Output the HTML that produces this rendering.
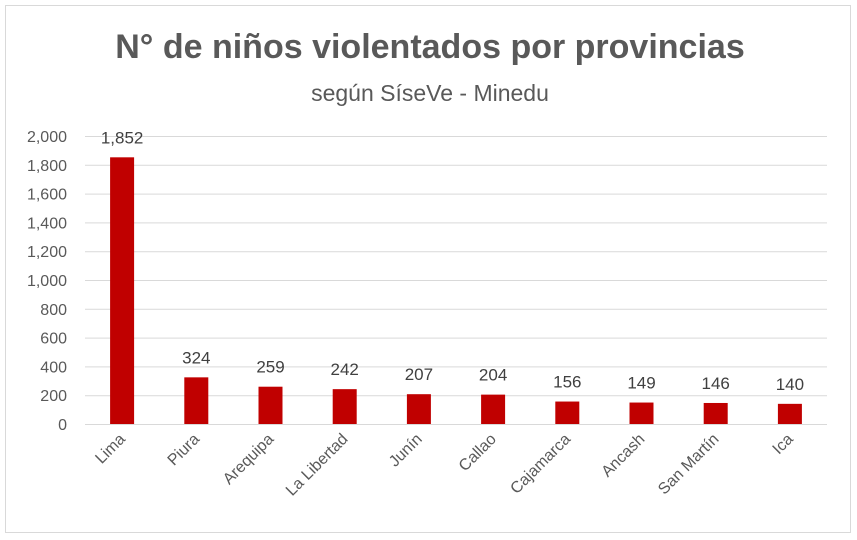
<!DOCTYPE html>
<html><head><meta charset="utf-8"><style>
body{margin:0;background:#fff;}
svg{display:block;font-family:"Liberation Sans",Calibri,sans-serif;}
</style></head><body>
<svg id="chart" width="857" height="540">
<rect x="5.5" y="5.5" width="845" height="527" fill="#fff" stroke="#d9d9d9"/>
<text x="430" y="58" text-anchor="middle" font-size="34" font-weight="bold" fill="#595959">N° de niños violentados por provincias</text>
<text x="430" y="101" text-anchor="middle" font-size="23" fill="#595959">según SíseVe - Minedu</text>
<g id="grid"></g><g id="bars"></g><g id="labels"></g>
</svg>
<script>
const categories=["Lima","Piura","Arequipa","La Libertad","Junín","Callao","Cajamarca","Ancash","San Martín","Ica"];
const values=[1852,324,259,242,207,204,156,149,146,140];
const valueLabels=["1,852","324","259","242","207","204","156","149","146","140"];
const ticks=[0,200,400,600,800,1000,1200,1400,1600,1800,2000];
const tickLabels=["0","200","400","600","800","1,000","1,200","1,400","1,600","1,800","2,000"];
const NS="http://www.w3.org/2000/svg";
const x0=85,x1=827,y0=424,y1=136,maxV=2000;
const band=(x1-x0)/categories.length,bw=24;
const y=v=>y0-(v/maxV)*(y0-y1);
const xc=i=>x0+band*(i+0.5);
function mk(t,a,p){const e=document.createElementNS(NS,t);for(const k in a)e.setAttribute(k,a[k]);p.appendChild(e);return e;}
const g=document.getElementById('grid'),b=document.getElementById('bars'),l=document.getElementById('labels');
ticks.forEach((t,i)=>{
 const ln=mk('line',{x1:x0,x2:x1,y1:y(t)+0.5,y2:y(t)+0.5,stroke:'#d9d9d9','stroke-width':1},g);
 
 
 const tx=mk('text',{x:67,y:y(t)+6,'text-anchor':'end','font-size':16,fill:'#595959'},g);
 tx.textContent=tickLabels[i];
 
 
});
categories.forEach((c,i)=>{
 const r=mk('rect',{x:xc(i)-bw/2,y:y(values[i]),width:bw,height:y0-y(values[i]),fill:'#c00000'},b);
 
 
 const v=mk('text',{x:xc(i),y:y(values[i])-14,'text-anchor':'middle','font-size':17,fill:'#404040'},l);
 v.textContent=valueLabels[i];
 
 
 const cx=xc(i)+4,cy=y0+16;
 const t=mk('text',{x:cx,y:cy,'text-anchor':'end','font-size':16,fill:'#595959',transform:`rotate(-45 ${cx} ${cy})`},l);
 t.textContent=c;
 
 
});
</script>
</body></html>
